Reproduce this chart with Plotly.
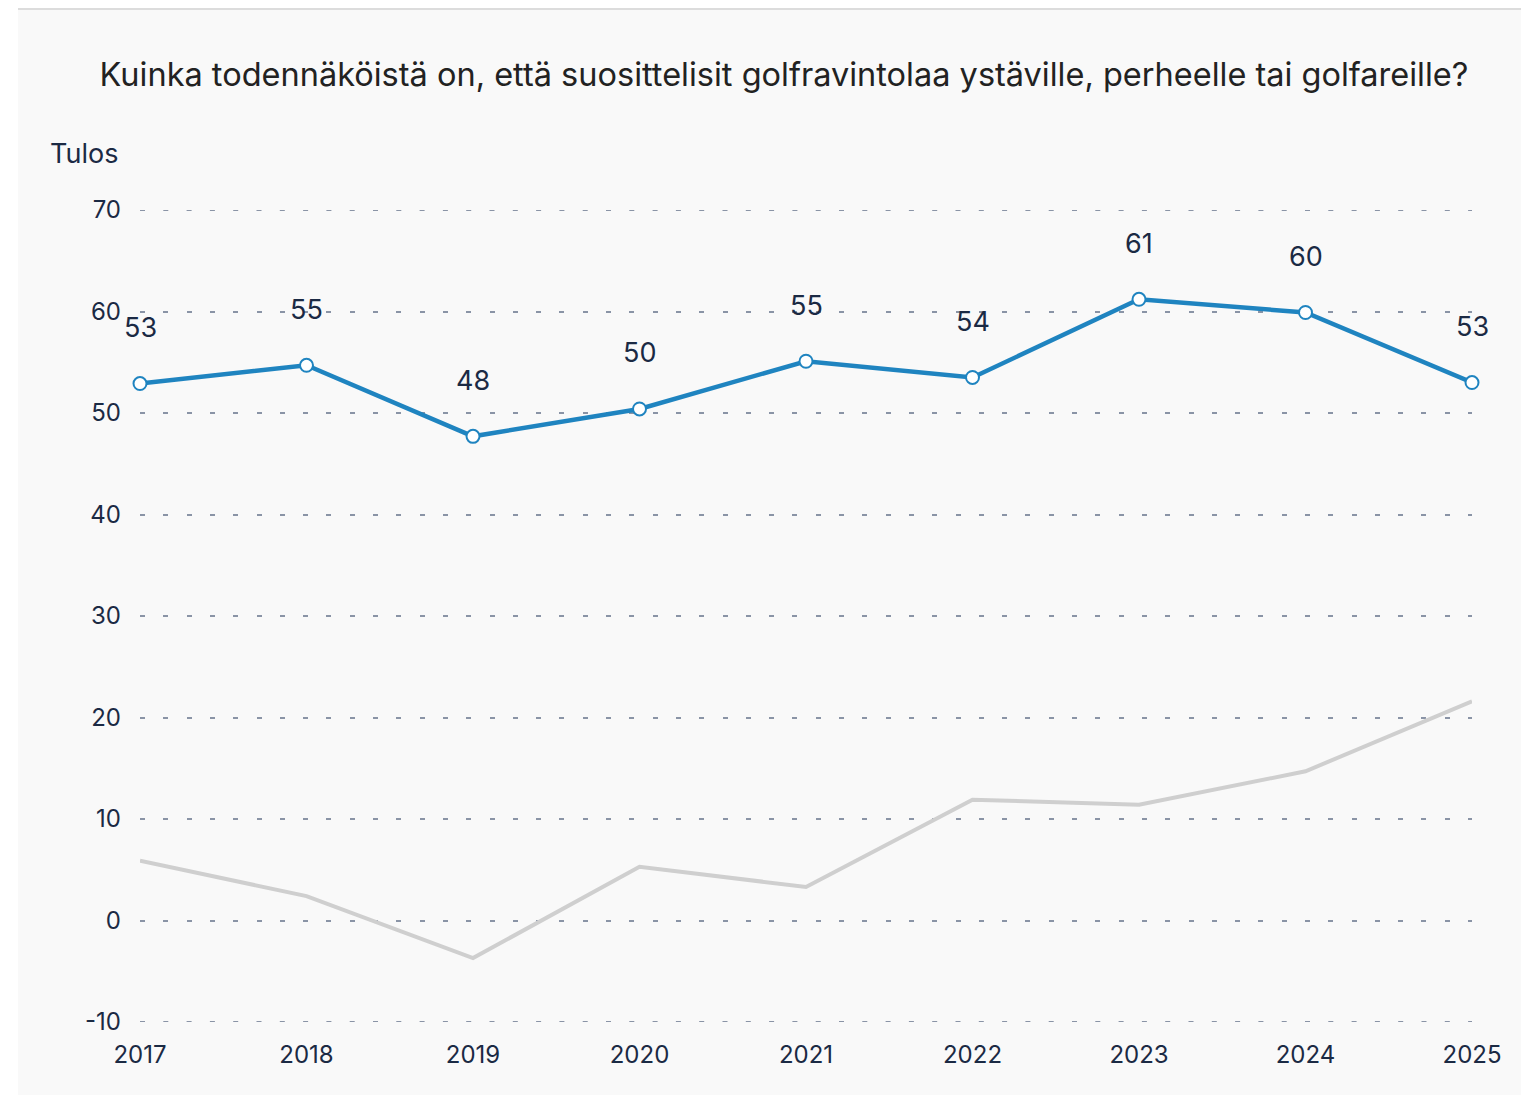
"""Suositteluhalukkuus golfravintolaan vuosina 2017-2025."""

import plotly.graph_objects as go


YEARS = [2017, 2018, 2019, 2020, 2021, 2022, 2023, 2024, 2025]
TULOS = [52.9, 54.7, 47.7, 50.4, 55.1, 53.5, 61.2, 59.9, 53.0]
VERTAILU = [5.9, 2.4, -3.7, 5.3, 3.3, 11.9, 11.4, 14.7, 21.6]
Y_TICKS = [-10, 0, 10, 20, 30, 40, 50, 60, 70]
Y_TICK_TEXT = ["-10", "0", "10", "20", "30", "40", "50", "60", "70"]

TITLE = "Kuinka todennäköistä on, että suosittelisit golfravintolaa ystäville, perheelle tai golfareille?"

FONT = "Inter, Noto Sans, sans-serif"
TEXT_COLOR = "#1b2a44"
BLUE = "#1f84c0"
GRAY = "#cfcfcf"
PANEL = "#f9f9f9"
GRID = "#8a94a6"
GRID_DASH = "5px,18.3px"

# sivun body-marginaali (8px) siirtaa kuvaa, joten kompensoidaan
OFFSET = 8
WIDTH, HEIGHT = 1529 - OFFSET, 1095 - OFFSET
MARGIN = dict(l=140 - OFFSET, r=57, t=210 - OFFSET, b=73)


def px_to_paper_x(px):
    plot_w = WIDTH - MARGIN["l"] - MARGIN["r"]
    return (px - OFFSET - MARGIN["l"]) / plot_w


def px_to_paper_y(py):
    plot_h = HEIGHT - MARGIN["t"] - MARGIN["b"]
    return (HEIGHT - MARGIN["b"] - (py - OFFSET)) / plot_h


def main():
    fig = go.Figure()

    fig.add_trace(
        go.Scatter(
            x=YEARS,
            y=VERTAILU,
            mode="lines",
            line=dict(color=GRAY, width=4),
            hoverinfo="skip",
            showlegend=False,
            cliponaxis=False,
        )
    )

    fig.add_trace(
        go.Scatter(
            x=YEARS,
            y=TULOS,
            mode="lines+markers",
            line=dict(color=BLUE, width=4.5),
            marker=dict(size=13, color="white", line=dict(color=BLUE, width=2)),
            showlegend=False,
            cliponaxis=False,
        )
    )

    for year, value in zip(YEARS, TULOS):
        fig.add_annotation(
            x=year,
            y=value,
            text=f"{round(value)}",
            showarrow=False,
            yshift=56,
            font=dict(family=FONT, size=27, color=TEXT_COLOR),
        )

    fig.add_annotation(
        xref="paper",
        yref="paper",
        x=px_to_paper_x(48),
        y=px_to_paper_y(153),
        xanchor="left",
        yanchor="middle",
        text="Tulos",
        showarrow=False,
        font=dict(family=FONT, size=27, color=TEXT_COLOR),
    )

    # taustapaneeli ja ylareunan viiva
    fig.add_shape(
        type="rect",
        xref="paper",
        yref="paper",
        x0=px_to_paper_x(18),
        x1=px_to_paper_x(1540),
        y0=px_to_paper_y(9),
        y1=px_to_paper_y(1100),
        fillcolor=PANEL,
        line=dict(width=0),
        layer="below",
    )
    fig.add_shape(
        type="line",
        xref="paper",
        yref="paper",
        x0=px_to_paper_x(18),
        x1=px_to_paper_x(1540),
        y0=px_to_paper_y(9),
        y1=px_to_paper_y(9),
        line=dict(color="#dcdcdc", width=2),
        layer="below",
    )

    # reunimmaiset ruudukkoviivat (plotly jattaa ne pois alueen reunalta)
    for value in [Y_TICKS[0], Y_TICKS[-1]]:
        fig.add_shape(
            type="line",
            xref="paper",
            yref="y",
            x0=0,
            x1=1,
            y0=value,
            y1=value,
            line=dict(color=GRID, width=2, dash=GRID_DASH),
            layer="below",
        )

    fig.update_layout(
        width=WIDTH,
        height=HEIGHT,
        margin=MARGIN,
        paper_bgcolor="white",
        plot_bgcolor="rgba(0,0,0,0)",
        title=dict(
            text=TITLE,
            xref="container",
            yref="container",
            x=(784 - OFFSET) / WIDTH,
            y=1 - (75 - OFFSET) / HEIGHT,
            xanchor="center",
            yanchor="middle",
            font=dict(family=FONT, size=32.5, color="#222222"),
        ),
        xaxis=dict(
            range=[2017, 2025],
            tickvals=YEARS,
            ticktext=[str(y) for y in YEARS],
            showgrid=False,
            zeroline=False,
            showline=False,
            ticks="",
            ticklabelstandoff=16,
            tickfont=dict(family=FONT, size=24, color=TEXT_COLOR),
        ),
        yaxis=dict(
            range=[Y_TICKS[0], Y_TICKS[-1]],
            tickvals=Y_TICKS,
            ticktext=Y_TICK_TEXT,
            showgrid=True,
            gridcolor=GRID,
            gridwidth=2,
            griddash=GRID_DASH,
            zeroline=False,
            showline=False,
            ticks="",
            ticklabelstandoff=18,
            tickfont=dict(family=FONT, size=24, color=TEXT_COLOR),
        ),
    )

    fig.write_html("out.html")


if __name__ == "__main__":
    main()
